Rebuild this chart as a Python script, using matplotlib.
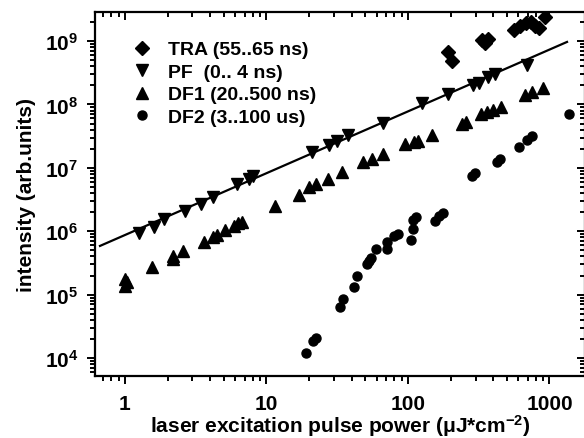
import matplotlib
matplotlib.use("Agg")
import matplotlib.pyplot as plt
import numpy as np
from matplotlib.ticker import LogLocator, FixedLocator, FixedFormatter, LogFormatterMathtext, NullFormatter

plt.rcParams['font.family'] = ['Liberation Sans', 'DejaVu Sans']
plt.rcParams['font.weight'] = 'bold'
plt.rcParams['mathtext.fontset'] = 'custom'
plt.rcParams['mathtext.rm'] = 'Liberation Sans:bold'
plt.rcParams['mathtext.it'] = 'Liberation Sans:bold:italic'
plt.rcParams['mathtext.bf'] = 'Liberation Sans:bold'

# ---- data ----
tra_x = [191.7, 204.7, 333.4, 350, 367.6, 561, 619, 682, 740, 790, 843, 929]
tra_y = [6.70e8, 4.84e8, 1.04e9, 9.29e8, 1.08e9, 1.49e9, 1.72e9, 1.92e9, 2.0e9, 1.72e9, 1.60e9, 2.39e9]

pf_x = [1.26, 1.60, 1.89, 2.65, 3.44, 4.19, 6.19, 7.52, 8.03, 21.0, 27.7, 31.5, 37.7,
        66.6, 125.6, 191.7, 288, 317.5, 367, 412, 693]
pf_y = [9.37e5, 1.16e6, 1.56e6, 2.08e6, 2.69e6, 3.46e6, 5.55e6, 6.65e6, 7.43e6, 1.78e7,
        2.29e7, 2.65e7, 3.29e7, 5.09e7, 1.05e8, 1.46e8, 2.02e8, 2.18e8, 2.71e8, 3.01e8, 4.18e8]

df1_x = [1.0, 1.033, 1.0, 1.55, 2.18, 2.18, 2.57, 3.62, 4.19, 4.47, 5.09, 5.89, 6.29, 6.71,
         11.5, 17.0, 20.0, 22.4, 27.2, 34.2, 48.1, 55.7, 66.6, 95.2, 110, 118, 148, 241, 257,
         328, 362, 399, 454, 671, 752, 900]
df1_y = [1.76e5, 1.58e5, 1.37e5, 2.72e5, 4.06e5, 3.65e5, 4.88e5, 6.76e5, 8.11e5, 8.71e5,
         1.05e6, 1.21e6, 1.35e6, 1.40e6, 2.50e6, 3.72e6, 4.98e6, 5.55e6, 6.65e6, 8.59e6,
         1.23e7, 1.38e7, 1.65e7, 2.37e7, 2.55e7, 2.65e7, 3.29e7, 4.91e7, 5.27e7, 7.06e7,
         7.59e7, 8.16e7, 9.10e7, 1.41e8, 1.57e8, 1.81e8]

df2_x = [19.0, 21.3, 22.4, 33.1, 34.7, 41.5, 43.6, 51.3, 53.0, 54.8, 59.4, 71.1, 71.1, 79.7,
         85.0, 105, 108, 108, 114, 155, 166, 177, 283, 297, 425, 447, 608, 693, 752, 1374]
df2_y = [1.20e4, 1.85e4, 2.07e4, 6.37e4, 8.53e4, 1.32e5, 1.96e5, 3.04e5, 3.39e5, 3.78e5,
         5.24e5, 5.24e5, 6.76e5, 8.40e5, 9.03e5, 7.26e5, 1.08e6, 1.50e6, 1.68e6, 1.45e6,
         1.74e6, 1.94e6, 7.43e6, 8.28e6, 1.23e7, 1.38e7, 2.13e7, 2.74e7, 3.18e7, 7.06e7]

# power-law fit of PF: log10(y) = fit_log_a + fit_b * log10(x)
fit_log_a = 5.940
fit_b = 0.975
fit_xrange = [0.666, 1330]

labels = ["TRA (55..65 ns)", "PF  (0.. 4 ns)", "DF1 (20..500 ns)", "DF2 (3..100 us)"]
x_ticks = [1, 10, 100, 1000]
x_ticklabels = ["1", "10", "100", "1000"]

# ---- figure ----
fig = plt.figure(figsize=(5.84, 4.39), dpi=100)
pos = [95/584, 1 - 377/439, 490/584, 364/439]
ax = fig.add_axes(pos)

ax.set_xscale('log')
ax.set_yscale('log')

h1, = ax.plot(tra_x, tra_y, 'D', color='black', ms=7, ls='none')
h2, = ax.plot(pf_x, pf_y, 'v', color='black', ms=8, ls='none')
h3, = ax.plot(df1_x, df1_y, '^', color='black', ms=8, ls='none')
h4, = ax.plot(df2_x, df2_y, 'o', color='black', ms=6.5, ls='none')

fx = np.logspace(np.log10(fit_xrange[0]), np.log10(fit_xrange[1]), 50)
ax.plot(fx, 10**(fit_log_a + fit_b*np.log10(fx)), color='black', lw=1.6)

ax.set_xlim(0.614, 1782)
ax.set_ylim(5.2e3, 2.87e9)

ax.xaxis.set_major_locator(FixedLocator(x_ticks))
ax.xaxis.set_major_formatter(FixedFormatter(x_ticklabels))
ax.xaxis.set_minor_locator(LogLocator(base=10, subs=np.arange(2, 10), numticks=20))
ax.xaxis.set_minor_formatter(NullFormatter())
ax.yaxis.set_major_locator(LogLocator(base=10, numticks=20))
ax.yaxis.set_major_formatter(LogFormatterMathtext())
ax.yaxis.set_minor_locator(LogLocator(base=10, subs=np.arange(2, 10), numticks=20))
ax.yaxis.set_minor_formatter(NullFormatter())

for s in ax.spines.values():
    s.set_linewidth(1.6)

ax.tick_params(which='both', direction='out', width=1.4, labelsize=15, top=False, right=False)
ax.tick_params(which='major', length=6)
ax.tick_params(which='minor', length=3.5)
ax.tick_params(axis='y', pad=6)
ax.tick_params(axis='x', pad=7)

# overlay for inward top/right ticks
ax2 = fig.add_axes(pos, sharex=ax, sharey=ax, frameon=False)
ax2.patch.set_visible(False)
ax2.tick_params(which='both', direction='in', width=1.4, left=False, bottom=False,
                top=True, right=True, labelleft=False, labelbottom=False,
                labeltop=False, labelright=False)
ax2.tick_params(which='major', length=6)
ax2.tick_params(which='minor', length=3.5)

ax.set_xlabel("laser excitation pulse power (\u03bcJ*cm$^{-2}$)", fontsize=15, fontweight='bold', labelpad=-1)
ax.set_ylabel("intensity (arb.units)", fontsize=15, fontweight='bold', labelpad=6)

ax.legend([h1, h2, h3, h4], labels, loc='upper left', bbox_to_anchor=(0.076, 0.921),
          frameon=False, fontsize=14, handlelength=1.0, handletextpad=0.84,
          labelspacing=0.25, borderaxespad=0, borderpad=0)

fig.savefig("out.png", dpi=100)
